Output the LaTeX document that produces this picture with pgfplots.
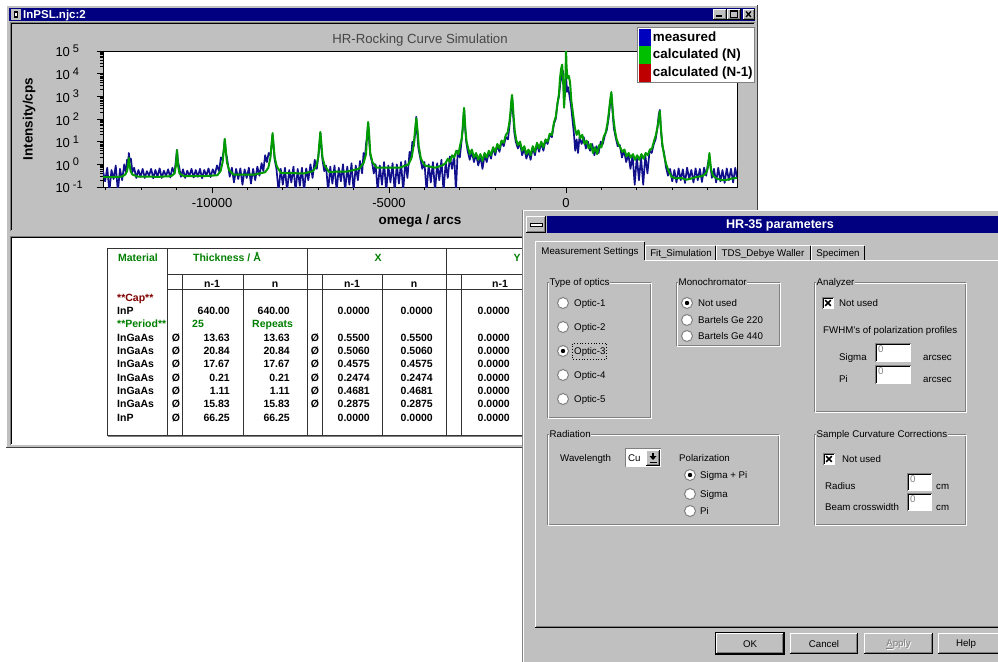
\documentclass[border=0pt]{standalone}
\usepackage{pgfplots}
\usepackage{pgfplotstable}
\pgfplotsset{compat=1.18}
\usepackage{fontspec}
\setmainfont{Liberation Sans}
\definecolor{navy}{RGB}{0,0,128}
\definecolor{wingray}{RGB}{192,192,192}
\definecolor{darkgr}{RGB}{128,128,128}
\definecolor{measblue}{RGB}{16,16,140}
\definecolor{calcgreen}{RGB}{0,155,0}
\definecolor{calcred}{RGB}{190,0,0}
\definecolor{tgreen}{RGB}{0,128,0}
\definecolor{tred}{RGB}{128,0,0}
\definecolor{titlegray}{RGB}{70,70,70}
\newcommand{\uif}{\fontsize{9.7bp}{11bp}\selectfont}
\newcommand{\tbf}{\fontsize{10.5bp}{12bp}\selectfont\bfseries}
% UI helpers (pixel coordinates, y downward)
\newcommand{\raised}[4]{%
  \fill[wingray] (#1,#2) rectangle (#3,#4);
  \draw[white, line width=1bp] (#1+0.5,#4-1) -- (#1+0.5,#2+0.5) -- (#3-1,#2+0.5);
  \draw[black, line width=1bp] (#1,#4-0.5) -- (#3-0.5,#4-0.5) -- (#3-0.5,#2);
  \draw[darkgr, line width=1bp] (#1+1,#4-1.5) -- (#3-1.5,#4-1.5) -- (#3-1.5,#2+1);}
\newcommand{\groupbox}[5]{%
  \draw[darkgr, line width=1bp] (#1+0.5,#2+0.5) rectangle (#3-1.5,#4-1.5);
  \draw[white, line width=1bp] (#1+1.5,#2+1.5) rectangle (#3-0.5,#4-0.5);
  \node[fill=wingray, inner sep=0.5bp, anchor=west, font=\uif] at (#1+2,#2+0.5) {#5};}
\newcommand{\radio}[3]{%
  \fill[white] (#1,#2) circle (5.5);
  \draw[darkgr, line width=1bp] (#1,#2) circle (5.5);
  \ifnum#3=1 \fill[black] (#1,#2) circle (2.2);\fi}
\newcommand{\checkx}[2]{%
  \fill[white] (#1-6,#2-6) rectangle (#1+6,#2+6);
  \draw[darkgr, line width=1bp] (#1-5.5,#2+6) -- (#1-5.5,#2-5.5) -- (#1+6,#2-5.5);
  \draw[black, line width=1bp] (#1-4.5,#2+5) -- (#1-4.5,#2-4.5) -- (#1+5,#2-4.5);
  \draw[black, line width=1.6bp] (#1-2.8,#2-2.8) -- (#1+2.8,#2+2.8) (#1-2.8,#2+2.8) -- (#1+2.8,#2-2.8);}
\newcommand{\editbox}[4]{%
  \fill[white] (#1,#2) rectangle (#3,#4);
  \draw[darkgr, line width=1bp] (#1+0.5,#4) -- (#1+0.5,#2+0.5) -- (#3,#2+0.5);
  \draw[black, line width=1bp] (#1+1.5,#4-1) -- (#1+1.5,#2+1.5) -- (#3-1,#2+1.5);
  \node[anchor=north west, inner sep=0pt, font=\uif, text=darkgr] at (#1+3,#2+3) {0};}
\newcommand{\lbl}[3]{\node[anchor=base west, inner sep=0pt, font=\uif] at (#1,#2+3.5) {#3};}
\newcommand{\tR}[3]{\node[anchor=base east, inner sep=0pt, font=\tbf] at (#1,#2+3.8) {#3};}
\newcommand{\tL}[3]{\node[anchor=base west, inner sep=0pt, font=\tbf] at (#1,#2+3.8) {#3};}
\newcommand{\tC}[3]{\node[anchor=base, inner sep=0pt, font=\tbf] at (#1,#2+3.8) {#3};}

\pgfplotstableread{
x y
-13080 -0.30
-13020 -0.75
-12960 -0.15
-12900 -1.20
-12840 -0.25
-12780 -0.65
-12720 -0.05
-12660 -1.20
-12600 -0.20
-12540 -0.70
-12480 0.00
-12430 -0.40
-12400 0.20
-12370 0.05
-12350 0.50
-12320 0.10
-12290 0.25
-12250 -0.35
-12200 -0.15
-12140 -0.60
-12080 -0.25
-12020 -0.55
-11960 -0.20
-11900 -0.60
-11840 -0.30
-11780 -0.50
-11720 -0.20
-11660 -0.62
-11600 -0.25
-11540 -0.55
-11480 -0.18
-11420 -0.60
-11360 -0.28
-11300 -0.52
-11240 -0.22
-11180 -0.58
-11120 -0.15
-11060 -0.40
-11030 0.05
-10990 0.63
-10960 0.10
-10930 -0.10
-10880 -0.55
-10820 -0.22
-10760 -0.60
-10700 -0.28
-10640 -0.52
-10580 -0.20
-10520 -0.58
-10460 -0.25
-10400 -0.55
-10340 -0.20
-10280 -0.62
-10220 -0.25
-10160 -0.50
-10100 -0.18
-10040 -0.56
-9980 -0.22
-9920 -0.45
-9860 -0.05
-9800 -0.30
-9750 0.30
-9710 0.20
-9670 0.60
-9640 1.10
-9610 0.55
-9580 0.30
-9540 -0.10
-9500 -0.55
-9440 -0.15
-9380 -0.80
-9320 -0.20
-9260 -0.65
-9200 -0.18
-9140 -0.90
-9080 -0.22
-9020 -0.60
-8960 -0.15
-8900 -0.85
-8840 -0.20
-8780 -0.70
-8720 -0.10
-8660 -0.50
-8600 0.05
-8550 -0.30
-8500 0.40
-8450 0.10
-8400 0.50
-8350 0.40
-8320 0.80
-8290 1.30
-8260 0.75
-8230 0.20
-8180 -0.20
-8120 -1.20
-8060 -0.20
-8000 -0.90
-7940 -0.15
-7880 -1.20
-7820 -0.25
-7760 -0.80
-7700 -0.10
-7640 -1.20
-7580 -0.20
-7520 -0.95
-7460 -0.15
-7400 -1.20
-7340 -0.18
-7280 -0.70
-7220 0.00
-7160 -0.60
-7100 0.20
-7040 -0.20
-6990 0.45
-6960 0.90
-6940 1.40
-6910 0.70
-6880 0.20
-6830 -0.30
-6780 -0.05
-6720 -1.20
-6660 -0.10
-6600 -0.85
-6540 -0.05
-6480 -1.20
-6420 -0.15
-6360 -0.75
-6300 0.00
-6240 -1.20
-6180 -0.10
-6120 -0.90
-6060 0.05
-6000 -1.20
-5940 -0.05
-5880 -0.70
-5820 0.15
-5760 -0.40
-5720 0.50
-5680 0.30
-5650 0.90
-5620 1.20
-5590 1.80
-5560 1.00
-5530 0.40
-5480 0.10
-5430 -0.40
-5380 0.00
-5320 -1.20
-5260 -0.05
-5200 -0.90
-5140 0.10
-5080 -1.20
-5020 -0.05
-4960 -0.80
-4900 0.05
-4840 -1.20
-4780 0.00
-4720 -0.85
-4660 0.10
-4600 -1.20
-4540 0.15
-4480 -0.60
-4420 0.55
-4380 0.30
-4340 1.00
-4300 0.80
-4260 1.40
-4230 2.10
-4200 1.30
-4170 0.70
-4120 0.30
-4060 -0.20
-4000 0.10
-3940 -1.20
-3880 0.00
-3820 -0.80
-3760 0.10
-3700 -1.20
-3640 0.05
-3580 -0.70
-3520 0.20
-3460 -1.20
-3400 0.10
-3340 -0.60
-3280 0.35
-3220 -0.20
-3160 0.40
-3110 -1.20
-3060 0.60
-3000 0.30
-2960 0.90
-2920 1.50
-2880 2.45
-2850 1.60
-2820 1.00
-2780 0.60
-2720 0.20
-2660 0.55
-2600 0.10
-2540 0.45
-2480 -0.05
-2420 0.35
-2360 -0.20
-2300 0.40
-2240 0.10
-2180 0.55
-2120 0.25
-2060 0.75
-2000 0.40
-1940 0.85
-1880 0.55
-1820 1.00
-1760 0.80
-1700 1.20
-1640 1.10
-1590 1.80
-1555 2.40
-1525 3.00
-1495 2.20
-1460 1.40
-1420 1.00
-1360 0.70
-1300 0.95
-1240 0.40
-1180 0.70
-1120 0.25
-1060 0.60
-1000 0.20
-940 0.75
-880 0.40
-820 0.90
-760 0.55
-700 0.95
-640 0.60
-580 1.05
-520 0.90
-460 1.30
-400 1.20
-340 1.80
-290 2.00
-240 2.70
-200 3.00
-160 3.60
-120 3.90
-90 4.15
-60 3.40
-30 3.00
0 3.90
30 3.20
60 3.40
100 3.00
140 2.60
180 2.00
220 1.40
260 0.60
300 1.10
340 0.50
380 1.20
440 0.90
500 1.20
560 0.70
620 1.00
680 0.60
740 0.90
800 0.40
860 0.80
920 0.50
980 1.00
1040 0.90
1100 1.30
1150 1.50
1200 2.00
1240 2.60
1280 3.10
1310 2.40
1350 1.60
1400 1.20
1460 0.80
1520 0.85
1580 0.30
1640 0.60
1700 0.10
1760 0.45
1820 -0.20
1880 0.40
1940 -0.90
2000 0.35
2060 -0.70
2120 0.30
2180 -0.90
2240 0.40
2300 -0.40
2360 0.60
2420 0.50
2480 0.90
2530 1.10
2580 1.60
2620 2.20
2650 2.40
2680 1.50
2720 0.80
2770 0.50
2820 -0.10
2880 -0.50
2940 -0.20
3000 -0.75
3060 -0.25
3120 -0.80
3180 -0.18
3240 -0.70
3300 -0.22
3360 -0.82
3420 -0.15
3480 -0.65
3540 -0.25
3600 -0.80
3660 -0.18
3720 -0.70
3780 -0.20
3840 -0.78
3900 -0.15
3960 -0.50
4000 -0.05
4030 0.20
4050 0.30
4080 -0.10
4120 -0.60
4180 -0.20
4240 -0.80
4300 -0.15
4360 -0.75
4420 -0.25
4480 -0.82
4540 -0.18
4600 -0.70
4660 -0.20
4720 -0.80
4780 -0.15
4830 -0.60
}\measured

\pgfplotstableread{
x y
-13080 -0.56
-12800 -0.56
-12550 -0.54
-12450 -0.45
-12400 -0.30
-12375 -0.05
-12350 0.28
-12325 -0.05
-12300 -0.30
-12250 -0.45
-12100 -0.54
-11500 -0.55
-11150 -0.52
-11060 -0.40
-11020 -0.05
-10990 0.63
-10960 -0.05
-10920 -0.40
-10800 -0.52
-10200 -0.52
-9850 -0.48
-9760 -0.30
-9700 0.10
-9670 0.60
-9640 1.12
-9610 0.60
-9580 0.10
-9520 -0.25
-9400 -0.45
-8800 -0.45
-8500 -0.35
-8410 -0.15
-8350 0.30
-8320 0.85
-8290 1.38
-8260 0.85
-8230 0.30
-8170 -0.10
-8050 -0.38
-7400 -0.40
-7150 -0.30
-7060 -0.10
-7000 0.30
-6970 0.90
-6940 1.43
-6910 0.90
-6880 0.30
-6820 -0.05
-6700 -0.33
-6200 -0.32
-5850 -0.20
-5720 0.05
-5650 0.45
-5620 1.30
-5590 1.87
-5560 1.30
-5530 0.50
-5470 0.10
-5350 -0.15
-4700 -0.15
-4450 0.00
-4360 0.30
-4300 0.90
-4265 1.50
-4230 2.04
-4195 1.50
-4160 0.80
-4100 0.25
-3990 -0.05
-3700 -0.15
-3500 -0.05
-3400 0.05
-3340 0.25
-3280 0.10
-3220 0.40
-3160 0.30
-3100 0.60
-3040 0.45
-2990 0.85
-2950 1.10
-2920 1.60
-2900 2.10
-2880 2.49
-2860 2.00
-2840 1.50
-2810 1.00
-2770 0.75
-2720 0.45
-2660 0.65
-2600 0.30
-2540 0.50
-2480 0.20
-2420 0.45
-2360 0.15
-2300 0.50
-2240 0.30
-2180 0.60
-2120 0.40
-2060 0.75
-2000 0.55
-1940 0.90
-1880 0.70
-1820 1.05
-1760 0.95
-1700 1.30
-1650 1.40
-1600 1.85
-1570 2.30
-1545 2.80
-1525 3.06
-1505 2.70
-1480 2.10
-1450 1.50
-1410 1.10
-1360 0.85
-1300 1.00
-1240 0.60
-1180 0.80
-1120 0.45
-1060 0.65
-1000 0.40
-940 0.80
-880 0.55
-820 0.95
-760 0.70
-700 1.00
-640 0.75
-580 1.10
-520 1.00
-460 1.35
-400 1.30
-340 1.85
-290 2.10
-240 2.70
-200 3.10
-170 3.80
-140 4.20
-110 4.40
-80 3.60
-55 2.50
-30 3.20
-10 4.30
0 5.10
15 4.30
40 3.80
80 3.90
115 3.60
150 2.80
200 2.20
250 1.60
300 1.30
350 1.50
400 1.15
460 1.30
520 0.90
580 1.05
640 0.70
700 0.90
760 0.50
820 0.75
880 0.45
940 0.85
1000 0.75
1060 1.20
1120 1.40
1170 1.80
1210 2.30
1245 2.80
1280 3.19
1310 2.60
1340 2.00
1380 1.50
1430 1.10
1480 0.90
1530 0.75
1590 0.55
1650 0.65
1710 0.35
1770 0.50
1830 0.30
1890 0.45
1950 0.20
2010 0.40
2070 0.20
2130 0.45
2190 0.25
2250 0.50
2310 0.40
2370 0.65
2430 0.70
2490 1.05
2540 1.30
2590 1.70
2620 2.00
2650 2.35
2680 1.60
2720 0.90
2770 0.40
2830 0.00
2900 -0.30
2980 -0.55
3100 -0.62
3250 -0.60
3400 -0.68
3550 -0.62
3700 -0.55
3850 -0.52
3950 -0.40
4000 -0.20
4025 0.10
4050 0.50
4075 0.10
4100 -0.25
4150 -0.50
4250 -0.62
4400 -0.70
4550 -0.68
4700 -0.62
4830 -0.60
}\calculated

\begin{document}
\begin{tikzpicture}
\begin{scope}[x=1bp,y=-1bp]
\path[use as bounding box] (0,0) rectangle (998,662);
\fill[white] (0,0) rectangle (998,662);
% ---------- left window ----------
\fill[wingray] (6,5) rectangle (758,448);
\draw[white, line width=1bp] (6.5,447.5) -- (6.5,5.5) -- (757.5,5.5);
\draw[black!75, line width=1bp] (6,447.5) -- (757.5,447.5) -- (757.5,5);
\fill[navy] (9,8) rectangle (755,21);
\fill[wingray] (11,9) rectangle (21,20);
\fill[black] (14,11) rectangle (18,18);
\fill[white] (15,13) rectangle (17,16);
\node[anchor=base west, inner sep=0pt, text=white, font=\fontsize{11.5bp}{12bp}\selectfont\bfseries] at (23,18.5) {InPSL.njc:2};
\raised{713}{9}{727}{20}
\raised{727}{9}{741}{20}
\raised{743}{9}{755}{20}
\fill[black] (716,15.5) rectangle (722,17.5);
\draw[black, line width=1bp] (730.5,11.5) rectangle (737.5,17.5);
\draw[black, line width=2bp] (730,11.5) -- (738,11.5);
\draw[black, line width=1.3bp] (746,11.5) -- (751,17) (746,17) -- (751,11.5);
% chart panel
\fill[wingray] (10,22) rectangle (755,231);
\draw[darkgr, line width=1bp] (10.5,231) -- (10.5,22.5) -- (755,22.5);
\draw[black, line width=1bp] (11.5,230) -- (11.5,23.5) -- (754,23.5);
% lower panel
\fill[white] (10,236) rectangle (755,445);
\draw[darkgr, line width=1bp] (10.5,445) -- (10.5,236.5) -- (755,236.5);
\draw[black, line width=1bp] (11.5,444) -- (11.5,237.5) -- (754,237.5);
\end{scope}

\begin{axis}[
  at={(103bp,-187bp)}, anchor=south west,
  scale only axis, width=634bp, height=136bp,
  xmin=-13080, xmax=4830, ymin=-1, ymax=5,
  axis background/.style={fill=white},
  axis line style={black, line width=0.8bp},
  tick pos=left, tick align=outside,
  major tick length=6bp, minor tick length=3bp,
  tick style={black, line width=0.7bp},
  xtick={-10000,-5000,0},
  xticklabels={-10000,-5000,0},
  minor xtick={-13000,-12000,-11000,-9000,-8000,-7000,-6000,-4000,-3000,-2000,-1000,1000,2000,3000,4000},
  ytick={-1,0,1,2,3,4,5},
  yticklabels={
    10\hspace{3bp}\raisebox{4.5bp}{\fontsize{11bp}{11bp}\selectfont -1},
    10\hspace{3bp}\raisebox{4.5bp}{\fontsize{11bp}{11bp}\selectfont 0},
    10\hspace{3bp}\raisebox{4.5bp}{\fontsize{11bp}{11bp}\selectfont 1},
    10\hspace{3bp}\raisebox{4.5bp}{\fontsize{11bp}{11bp}\selectfont 2},
    10\hspace{3bp}\raisebox{4.5bp}{\fontsize{11bp}{11bp}\selectfont 3},
    10\hspace{3bp}\raisebox{4.5bp}{\fontsize{11bp}{11bp}\selectfont 4},
    10\hspace{3bp}\raisebox{4.5bp}{\fontsize{11bp}{11bp}\selectfont 5}},
  minor ytick={-0.699,-0.523,-0.398,-0.301,-0.222,-0.155,-0.097,-0.046,
    0.301,0.477,0.602,0.699,0.778,0.845,0.903,0.954,
    1.301,1.477,1.602,1.699,1.778,1.845,1.903,1.954,
    2.301,2.477,2.602,2.699,2.778,2.845,2.903,2.954,
    3.301,3.477,3.602,3.699,3.778,3.845,3.903,3.954,
    4.301,4.477,4.602,4.699,4.778,4.845,4.903,4.954},
  xticklabel style={font=\fontsize{13bp}{13bp}\selectfont, yshift=-1.5bp},
  yticklabel style={font=\fontsize{13bp}{13bp}\selectfont, anchor=west, xshift=-45bp},
  title={HR-Rocking Curve Simulation},
  title style={at={(axis description cs:0.5,1.037)}, anchor=center, text=titlegray, font=\fontsize{13.2bp}{14bp}\selectfont},
  xlabel={omega / arcs},
  xlabel style={at={(axis description cs:0.5,-0.25)}, anchor=center, font=\fontsize{13.5bp}{14bp}\selectfont\bfseries},
  ylabel={Intensity/cps},
  ylabel style={at={(axis description cs:-0.1167,0.5)}, anchor=center, font=\fontsize{13.5bp}{14bp}\selectfont\bfseries},
  legend image code/.code={\fill[#1] (0bp,-8.5bp) rectangle (11bp,8.5bp);},
  legend style={at={(axis description cs:0.842,1.176)}, anchor=north west,
    draw=darkgr, fill=white, inner sep=1.5bp, row sep=0bp,
    font=\fontsize{13.4bp}{14bp}\selectfont\bfseries,
    nodes={inner sep=0bp, anchor=west},
    /tikz/every odd column/.append style={column sep=3bp}},
  legend cell align=left,
]
\addplot[measblue, line width=1.7bp, line join=round, forget plot] table {\measured};
\addplot[calcgreen, line width=2bp, line join=round, forget plot] table {\calculated};
\addlegendimage{blue!75!black}
\addlegendentry{measured}
\addlegendimage{green!75!black}
\addlegendentry{calculated (N)}
\addlegendimage{calcred}
\addlegendentry{calculated (N-1)}
\end{axis}

\begin{scope}[x=1bp,y=-1bp]
\path[use as bounding box] (0,0) rectangle (998,662);
% ---------- table ----------
\begin{scope}[line width=0.8bp, draw=black!80]
\draw (107,248) rectangle (540,435);
\draw (167,248) -- (167,435);
\draw (307,248) -- (307,435);
\draw (446,248) -- (446,435);
\draw (167,274) -- (540,274);
\draw (167,289) -- (540,289);
\foreach \c in {182,243,322,382,461} {\draw (\c,274) -- (\c,435);}
\end{scope}
\draw[darkgr, line width=1bp] (108,436.5) -- (540,436.5);
\node[anchor=base, inner sep=0pt, font=\tbf, text=tgreen] at (138,261.8) {Material};
\node[anchor=base, inner sep=0pt, font=\tbf, text=tgreen] at (227,261.8) {Thickness / Å};
\node[anchor=base, inner sep=0pt, font=\tbf, text=tgreen] at (378,261.8) {X};
\node[anchor=base, inner sep=0pt, font=\tbf, text=tgreen] at (517,261.8) {Y};
\tC{212}{284}{n-1}\tC{275}{284}{n}\tC{352}{284}{n-1}\tC{414}{284}{n}\tC{500}{284}{n-1}
\node[anchor=base west, inner sep=0pt, font=\tbf, text=tred] at (117,301.8) {**Cap**};
\tL{117}{311}{InP}\tR{230}{311}{640.00}\tR{290}{311}{640.00}\tR{370}{311}{0.0000}\tR{433}{311}{0.0000}\tR{510}{311}{0.0000}
\node[anchor=base west, inner sep=0pt, font=\tbf, text=tgreen] at (117,327.8) {**Period**};
\node[anchor=base west, inner sep=0pt, font=\tbf, text=tgreen] at (192,327.8) {25};
\node[anchor=base west, inner sep=0pt, font=\tbf, text=tgreen] at (252,327.8) {Repeats};
\tL{117}{338}{InGaAs}\tC{176}{338}{Ø}\tR{230}{338}{13.63}\tR{290}{338}{13.63}\tC{315}{338}{Ø}\tR{370}{338}{0.5500}\tR{433}{338}{0.5500}\tR{510}{338}{0.0000}
\tL{117}{351}{InGaAs}\tC{176}{351}{Ø}\tR{230}{351}{20.84}\tR{290}{351}{20.84}\tC{315}{351}{Ø}\tR{370}{351}{0.5060}\tR{433}{351}{0.5060}\tR{510}{351}{0.0000}
\tL{117}{364}{InGaAs}\tC{176}{364}{Ø}\tR{230}{364}{17.67}\tR{290}{364}{17.67}\tC{315}{364}{Ø}\tR{370}{364}{0.4575}\tR{433}{364}{0.4575}\tR{510}{364}{0.0000}
\tL{117}{378}{InGaAs}\tC{176}{378}{Ø}\tR{230}{378}{0.21}\tR{290}{378}{0.21}\tC{315}{378}{Ø}\tR{370}{378}{0.2474}\tR{433}{378}{0.2474}\tR{510}{378}{0.0000}
\tL{117}{391}{InGaAs}\tC{176}{391}{Ø}\tR{230}{391}{1.11}\tR{290}{391}{1.11}\tC{315}{391}{Ø}\tR{370}{391}{0.4681}\tR{433}{391}{0.4681}\tR{510}{391}{0.0000}
\tL{117}{404}{InGaAs}\tC{176}{404}{Ø}\tR{230}{404}{15.83}\tR{290}{404}{15.83}\tC{315}{404}{Ø}\tR{370}{404}{0.2875}\tR{433}{404}{0.2875}\tR{510}{404}{0.0000}
\tL{117}{418}{InP}\tC{176}{418}{Ø}\tR{230}{418}{66.25}\tR{290}{418}{66.25}\tR{370}{418}{0.0000}\tR{433}{418}{0.0000}\tR{510}{418}{0.0000}

% ---------- dialog ----------
\fill[wingray] (522,210) rectangle (998,662);
\draw[darkgr, line width=1bp] (522.5,210) -- (522.5,662);
\draw[white, line width=1bp] (523.5,211) -- (523.5,662);
\draw[white, line width=1bp] (523,210.5) -- (998,210.5);
\fill[navy] (547,216) rectangle (998,233);
\raised{526}{216}{546}{233}
\draw[black, fill=white, line width=0.8bp] (530,223.5) rectangle (542,226.5);
\node[text=white, inner sep=0pt, font=\fontsize{12.6bp}{13bp}\selectfont\bfseries] at (780,225) {HR-35 parameters};
% tabs
\fill[wingray] (645,245) rectangle (865,260);
\draw[white, line width=1bp] (645.5,260) -- (645.5,245.5) -- (715,245.5);
\draw[black, line width=1bp] (715.5,246) -- (715.5,260);
\draw[white, line width=1bp] (716.5,260) -- (716.5,245.5) -- (810,245.5);
\draw[black, line width=1bp] (810.5,246) -- (810.5,260);
\draw[white, line width=1bp] (811.5,260) -- (811.5,245.5) -- (864,245.5);
\draw[black, line width=1bp] (864.5,246) -- (864.5,260);
\draw[white, line width=1bp] (645,260.5) -- (998,260.5);
\draw[white, line width=1bp] (535.5,627) -- (535.5,241.5) -- (644,241.5);
\draw[black, line width=1bp] (644.5,242) -- (644.5,260);
\draw[darkgr, line width=1bp] (536,626.5) -- (998,626.5);
\draw[black, line width=1bp] (535,627.5) -- (998,627.5);
\node[inner sep=0pt, font=\uif] at (590,252) {Measurement Settings};
\node[inner sep=0pt, font=\uif] at (681,254) {Fit\_Simulation};
\node[inner sep=0pt, font=\uif] at (763,254) {TDS\_Debye Waller};
\node[inner sep=0pt, font=\uif] at (838,254) {Specimen};
% Type of optics
\groupbox{547}{282}{652}{419}{Type of optics}
\radio{563}{303}{0}\lbl{574}{303}{Optic-1}
\radio{563}{327}{0}\lbl{574}{327}{Optic-2}
\radio{563}{351}{1}\lbl{574}{351}{Optic-3}
\draw[black, dotted, line width=0.8bp] (572.5,343.5) rectangle (606.5,359.5);
\radio{563}{375}{0}\lbl{574}{375}{Optic-4}
\radio{563}{399}{0}\lbl{574}{399}{Optic-5}
% Monochromator
\groupbox{676}{282}{781}{347}{Monochromator}
\radio{687}{303}{1}\lbl{698}{303}{Not used}
\radio{687}{320}{0}\lbl{698}{320}{Bartels Ge 220}
\radio{687}{336}{0}\lbl{698}{336}{Bartels Ge 440}
% Analyzer
\groupbox{814}{282}{967}{413}{Analyzer}
\checkx{828}{303}\lbl{839}{303}{Not used}
\lbl{823}{330}{FWHM's of polarization profiles}
\lbl{839}{357}{Sigma}\editbox{875}{343}{911}{362}\lbl{923}{357}{arcsec}
\lbl{839}{379}{Pi}\editbox{875}{365}{911}{384}\lbl{923}{379}{arcsec}
% Radiation
\groupbox{547}{434}{780}{526}{Radiation}
\lbl{560}{458}{Wavelength}
\fill[white] (625,448) rectangle (661,467);
\draw[darkgr, line width=1bp] (625.5,467) -- (625.5,448.5) -- (661,448.5);
\node[anchor=base west, inner sep=0pt, font=\uif] at (628,461.5) {Cu};
\raised{646}{450}{660}{466}
\fill[black] (649.5,456) -- (656.5,456) -- (653,460) -- cycle;
\draw[black, line width=1.2bp] (653,452.5) -- (653,456);
\draw[black, line width=1bp] (649.5,462) -- (656.5,462);
\lbl{679}{458}{Polarization}
\radio{690}{475}{1}\lbl{700}{475}{Sigma + Pi}
\radio{690}{494}{0}\lbl{700}{494}{Sigma}
\radio{690}{511}{0}\lbl{700}{511}{Pi}
% Sample curvature
\groupbox{814}{434}{967}{526}{Sample Curvature Corrections}
\checkx{829}{459}\lbl{842}{459}{Not used}
\lbl{825}{486}{Radius}\editbox{907}{473}{932}{491}\lbl{936}{486}{cm}
\lbl{825}{507}{Beam crosswidth}\editbox{907}{493}{932}{511}\lbl{936}{507}{cm}
% buttons
\draw[black, line width=1bp] (715.5,632.5) rectangle (784.5,654.5);
\raised{716}{633}{784}{654}
\node[inner sep=0pt, font=\uif] at (750,644) {OK};
\raised{790}{633}{858}{654}
\node[inner sep=0pt, font=\uif] at (824,644) {Cancel};
\raised{864}{633}{933}{654}
\node[inner sep=0pt, font=\uif, text=white] at (899.5,644.8) {\underline{A}pply};
\node[inner sep=0pt, font=\uif, text=darkgr] at (898.5,644) {\underline{A}pply};
\fill[wingray] (938,633) rectangle (998,654);
\draw[white, line width=1bp] (938.5,653) -- (938.5,633.5) -- (998,633.5);
\draw[black, line width=1bp] (938,653.5) -- (998,653.5);
\draw[darkgr, line width=1bp] (939,652.5) -- (998,652.5);
\node[inner sep=0pt, font=\uif] at (966,644) {Help};
\end{scope}
\end{tikzpicture}
\end{document}
